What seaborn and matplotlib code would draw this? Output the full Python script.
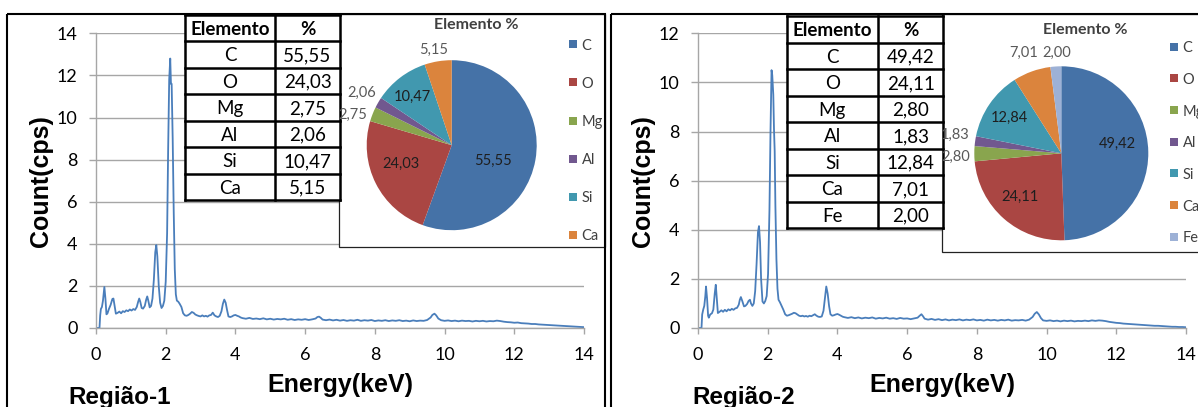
import numpy as np
import pandas as pd
import matplotlib
matplotlib.use("Agg")
import matplotlib.pyplot as plt
from matplotlib.patches import Rectangle
import seaborn as sns

# ---------------------------------------------------------------- data
elements_r1 = ["C", "O", "Mg", "Al", "Si", "Ca"]
percent_r1 = [55.55, 24.03, 2.75, 2.06, 10.47, 5.15]

elements_r2 = ["C", "O", "Mg", "Al", "Si", "Ca", "Fe"]
percent_r2 = [49.42, 24.11, 2.80, 1.83, 12.84, 7.01, 2.00]

region_titles = ["Região-1", "Região-2"]
x_title = "Energy(keV)"
y_title = "Count(cps)"
table_header = ["Elemento", "%"]
pie_title = "Elemento %"

x_ticks = [0, 2, 4, 6, 8, 10, 12, 14]
y_ticks_r1 = [0, 2, 4, 6, 8, 10, 12, 14]
y_ticks_r2 = [0, 2, 4, 6, 8, 10, 12]

# EDS spectrum, region 1
energy_r1 = [0.00, 0.10, 0.12, 0.14, 0.17, 0.20, 0.24, 0.27, 0.30, 0.33, 0.37, 0.42,
             0.47, 0.50, 0.53, 0.57, 0.62, 0.67, 0.72, 0.77, 0.82, 0.87, 0.92, 0.97,
             1.02, 1.07, 1.12, 1.17, 1.21, 1.24, 1.27, 1.31, 1.35, 1.40, 1.44, 1.47,
             1.50, 1.54, 1.58, 1.62, 1.66, 1.70, 1.73, 1.76, 1.80, 1.84, 1.88, 1.92,
             1.96, 2.00, 2.04, 2.07, 2.10, 2.13, 2.15, 2.17, 2.20, 2.23, 2.26, 2.29,
             2.32, 2.36, 2.40, 2.45, 2.50, 2.55, 2.60, 2.65, 2.70, 2.75, 2.80, 2.85,
             2.90, 2.95, 3.00, 3.05, 3.10, 3.15, 3.20, 3.25, 3.30, 3.35, 3.40, 3.45,
             3.50, 3.55, 3.60, 3.64, 3.68, 3.72, 3.76, 3.80, 3.85, 3.90, 3.95, 4.00,
             4.05, 4.10, 4.15, 4.20, 4.30, 4.40, 4.50, 4.60, 4.70, 4.80, 4.90, 5.00,
             5.10, 5.20, 5.30, 5.40, 5.50, 5.60, 5.70, 5.80, 5.90, 6.00, 6.10, 6.20,
             6.30, 6.35, 6.40, 6.45, 6.50, 6.60, 6.70, 6.80, 6.90, 7.00, 7.10, 7.20,
             7.30, 7.40, 7.50, 7.60, 7.70, 7.80, 7.90, 8.00, 8.10, 8.20, 8.30, 8.40,
             8.50, 8.60, 8.70, 8.80, 8.90, 9.00, 9.10, 9.20, 9.30, 9.40, 9.50, 9.60,
             9.65, 9.71, 9.76, 9.82, 9.90, 10.00, 10.10, 10.20, 10.30, 10.40, 10.50,
             10.60, 10.70, 10.80, 10.90, 11.00, 11.10, 11.20, 11.30, 11.40, 11.50,
             11.60, 11.70, 11.80, 11.90, 12.00, 12.10, 12.20, 12.30, 12.40, 12.50,
             12.60, 12.70, 12.80, 12.90, 13.00, 13.10, 13.20, 13.30, 13.40, 13.50,
             13.60, 13.70, 13.80, 13.90, 14.00]
counts_r1 = [0.00, 0.00, 0.60, 0.90, 1.00, 1.30, 1.95, 1.40, 0.65, 0.70, 0.90, 1.10,
             1.38, 1.40, 1.10, 0.68, 0.72, 0.78, 0.70, 0.80, 0.76, 0.84, 0.80, 0.88,
             0.83, 0.90, 0.86, 1.00, 1.25, 1.40, 1.25, 0.95, 0.92, 1.05, 1.35, 1.50,
             1.30, 0.98, 1.05, 1.40, 2.30, 3.60, 3.94, 3.40, 2.00, 1.20, 0.95, 1.05,
             1.30, 2.20, 4.50, 8.50, 11.80, 12.80, 11.60, 11.60, 9.00, 5.50, 2.80, 1.60,
             1.30, 1.25, 1.15, 1.00, 0.70, 0.60, 0.58, 0.62, 0.68, 0.76, 0.72, 0.64,
             0.60, 0.57, 0.55, 0.60, 0.55, 0.58, 0.54, 0.60, 0.62, 0.73, 0.60, 0.55,
             0.52, 0.58, 0.80, 1.15, 1.35, 1.20, 0.85, 0.55, 0.52, 0.55, 0.60, 0.62,
             0.58, 0.55, 0.50, 0.47, 0.44, 0.48, 0.43, 0.45, 0.42, 0.46, 0.41, 0.44,
             0.40, 0.43, 0.41, 0.44, 0.39, 0.42, 0.38, 0.41, 0.39, 0.42, 0.38, 0.41,
             0.45, 0.52, 0.54, 0.48, 0.40, 0.37, 0.40, 0.36, 0.39, 0.35, 0.38, 0.34,
             0.37, 0.35, 0.39, 0.34, 0.37, 0.35, 0.38, 0.33, 0.36, 0.34, 0.37, 0.33,
             0.36, 0.34, 0.37, 0.33, 0.35, 0.32, 0.36, 0.33, 0.35, 0.34, 0.38, 0.50,
             0.62, 0.68, 0.60, 0.45, 0.37, 0.34, 0.36, 0.33, 0.35, 0.32, 0.35,
             0.33, 0.34, 0.31, 0.34, 0.32, 0.34, 0.31, 0.33, 0.32, 0.35,
             0.33, 0.30, 0.28, 0.27, 0.25, 0.26, 0.23, 0.22, 0.21, 0.19,
             0.19, 0.17, 0.16, 0.15, 0.14, 0.13, 0.12, 0.11, 0.10, 0.09,
             0.08, 0.07, 0.06, 0.05, 0.04]

# EDS spectrum, region 2
energy_r2 = [0.00, 0.10, 0.12, 0.15, 0.18, 0.21, 0.23, 0.26, 0.29, 0.31, 0.35, 0.40,
             0.44, 0.48, 0.51, 0.54, 0.57, 0.62, 0.67, 0.72, 0.77, 0.82, 0.87, 0.92,
             0.97, 1.02, 1.07, 1.12, 1.17, 1.20, 1.23, 1.27, 1.32, 1.36, 1.41, 1.45,
             1.49, 1.52, 1.56, 1.60, 1.64, 1.68, 1.72, 1.75, 1.78, 1.81, 1.85, 1.89,
             1.93, 1.97, 2.01, 2.05, 2.08, 2.11, 2.13, 2.16, 2.18, 2.20, 2.22, 2.25,
             2.28, 2.31, 2.35, 2.40, 2.45, 2.50, 2.55, 2.60, 2.65, 2.70, 2.75, 2.80,
             2.85, 2.90, 2.95, 3.00, 3.05, 3.10, 3.15, 3.20, 3.25, 3.30, 3.35, 3.40,
             3.45, 3.50, 3.55, 3.60, 3.64, 3.68, 3.72, 3.76, 3.80, 3.85, 3.90, 3.95,
             4.00, 4.05, 4.10, 4.15, 4.20, 4.30, 4.40, 4.50, 4.60, 4.70, 4.80, 4.90,
             5.00, 5.10, 5.20, 5.30, 5.40, 5.50, 5.60, 5.70, 5.80, 5.90, 6.00, 6.10,
             6.20, 6.30, 6.36, 6.41, 6.46, 6.50, 6.60, 6.70, 6.80, 6.90, 7.00, 7.10,
             7.20, 7.30, 7.40, 7.50, 7.60, 7.70, 7.80, 7.90, 8.00, 8.10, 8.20, 8.30,
             8.40, 8.50, 8.60, 8.70, 8.80, 8.90, 9.00, 9.10, 9.20, 9.30, 9.40, 9.50,
             9.60, 9.66, 9.72, 9.78, 9.84, 9.90, 10.00, 10.10, 10.20, 10.30, 10.40,
             10.50, 10.60, 10.70, 10.80, 10.90, 11.00, 11.10, 11.20, 11.30, 11.40,
             11.50, 11.60, 11.70, 11.80, 11.90, 12.00, 12.10, 12.20, 12.30, 12.40,
             12.50, 12.60, 12.70, 12.80, 12.90, 13.00, 13.10, 13.20, 13.30, 13.40,
             13.50, 13.60, 13.70, 13.80, 13.90, 14.00]
counts_r2 = [0.00, 0.00, 0.55, 0.75, 0.90, 1.30, 1.69, 1.20, 0.50, 0.42, 0.55, 0.60,
             0.75, 1.40, 1.76, 1.20, 0.61, 0.66, 0.72, 0.66, 0.74, 0.68, 0.76, 0.72,
             0.78, 0.74, 0.80, 0.82, 0.95, 1.15, 1.26, 1.10, 0.88, 0.90, 0.98, 1.10,
             1.15, 1.00, 0.90, 1.00, 1.50, 2.60, 3.90, 4.15, 3.50, 2.00, 1.08, 1.00,
             1.10, 1.30, 2.20, 4.80, 8.00, 10.50, 10.30, 9.50, 8.10, 7.20, 5.00, 2.80,
             1.60, 1.15, 1.05, 0.90, 0.74, 0.56, 0.50, 0.52, 0.55, 0.58, 0.62, 0.60,
             0.55, 0.50, 0.48, 0.50, 0.47, 0.49, 0.46, 0.50, 0.48, 0.52, 0.56, 0.50,
             0.46, 0.45, 0.47, 0.70, 1.20, 1.69, 1.40, 0.90, 0.56, 0.50, 0.52, 0.55,
             0.57, 0.54, 0.50, 0.46, 0.44, 0.41, 0.44, 0.40, 0.43, 0.39, 0.42, 0.40,
             0.43, 0.38, 0.41, 0.39, 0.42, 0.38, 0.40, 0.37, 0.41, 0.38, 0.39, 0.36,
             0.39, 0.42, 0.50, 0.56, 0.47, 0.38, 0.34, 0.37, 0.33, 0.36, 0.32, 0.35,
             0.31, 0.34, 0.32, 0.35, 0.31, 0.34, 0.32, 0.35, 0.31, 0.33, 0.30, 0.34,
             0.31, 0.33, 0.30, 0.33, 0.31, 0.34, 0.30, 0.32, 0.31, 0.33, 0.30, 0.34,
             0.45, 0.58, 0.65, 0.55, 0.40, 0.31, 0.29, 0.31, 0.28, 0.30, 0.27,
             0.30, 0.28, 0.30, 0.27, 0.29, 0.28, 0.30, 0.28, 0.31, 0.29,
             0.31, 0.30, 0.28, 0.25, 0.23, 0.21, 0.20, 0.18, 0.17, 0.16,
             0.15, 0.14, 0.13, 0.12, 0.11, 0.10, 0.09, 0.09, 0.08, 0.07,
             0.06, 0.05, 0.05, 0.04, 0.04, 0.03]

# ---------------------------------------------------------------- style
W, H = 1198, 407
sns.set_theme(style="white")
plt.rcParams["font.family"] = ["Lato", "DejaVu Sans"]

PIE_COLORS = {"C": "#4572A7", "O": "#AA4643", "Mg": "#89A54E", "Al": "#71588F",
              "Si": "#4198AF", "Ca": "#DB843D", "Fe": "#9DB1D6"}
GRID = "#A6A6A6"
LINE = "#4A7EBB"
BOLD_FONT = ["Liberation Sans", "DejaVu Sans"]

fig = plt.figure(figsize=(W / 100, H / 100), dpi=100)


def rect(x0, y0, x1, y1):
    """Pixel box (origin top-left) -> figure fraction rectangle."""
    return [x0 / W, 1 - y1 / H, (x1 - x0) / W, (y1 - y0) / H]


def fmt(v):
    return f"{v:.2f}".replace(".", ",")


def spectrum(x0, energy, counts, yticks):
    ax = fig.add_axes(rect(x0, 33.3, x0 + 488, 328))
    df = pd.DataFrame({"Energy": energy, "Count": counts})
    sns.lineplot(data=df, x="Energy", y="Count", ax=ax, color=LINE,
                 linewidth=1.3, estimator=None, sort=False)
    ax.set_xlim(x_ticks[0], x_ticks[-1])
    ax.set_ylim(yticks[0], yticks[-1])
    ax.set_xticks(x_ticks)
    ax.set_yticks(yticks)
    ax.yaxis.grid(True, color=GRID, linewidth=1.0)
    ax.xaxis.grid(False)
    ax.set_axisbelow(True)
    for s in ("top", "right"):
        ax.spines[s].set_visible(False)
    for s in ("left", "bottom"):
        ax.spines[s].set_color(GRID)
        ax.spines[s].set_linewidth(1.0)
    ax.tick_params(axis="x", direction="out", length=4, width=1.0, color=GRID,
                   pad=9.5, labelsize=13, labelcolor="black", bottom=True)
    ax.tick_params(axis="y", direction="out", length=5, width=1.0, color=GRID,
                   pad=8.2, labelsize=13, labelcolor="black", left=True)
    ax.set_xlabel("")
    ax.set_ylabel("")
    ax.patch.set_alpha(0)
    return ax


spectrum(96, energy_r1, counts_r1, y_ticks_r1)
spectrum(698, energy_r2, counts_r2, y_ticks_r2)

# overlay in pixel coordinates for frames, tables, legends and titles
ov = fig.add_axes([0, 0, 1, 1])
ov.set_xlim(0, W)
ov.set_ylim(H, 0)
ov.axis("off")


def table(x0, xm, x1, y0, rh, elems, vals):
    n = len(elems) + 1
    y1 = y0 + rh * n
    ov.add_patch(Rectangle((x0, y0), x1 - x0, y1 - y0, facecolor="white",
                           edgecolor="none", zorder=3))
    for i in range(n + 1):
        ov.plot([x0, x1], [y0 + i * rh] * 2, color="black", lw=1.8,
                solid_capstyle="projecting", zorder=4)
    for x in (x0, xm, x1):
        ov.plot([x, x], [y0, y1], color="black", lw=1.8,
                solid_capstyle="projecting", zorder=4)
    cl, cr = (x0 + xm) / 2, (xm + x1) / 2
    ov.text(cl, y0 + rh / 2, table_header[0], ha="center", va="center_baseline",
            fontsize=13.5, fontweight="bold", color="black", zorder=5)
    ov.text(cr, y0 + rh / 2, table_header[1], ha="center", va="center_baseline",
            fontsize=13.5, fontweight="bold", color="black", zorder=5)
    for i, (e, v) in enumerate(zip(elems, vals), start=1):
        yc = y0 + rh * (i + 0.5)
        ov.text(cl, yc, e, ha="center", va="center_baseline", fontsize=13.5,
                color="black", zorder=5)
        ov.text(cr, yc, fmt(v), ha="center", va="center_baseline", fontsize=13.5,
                color="black", zorder=5)


def pie_panel(box, title_xy, centre, r, elems, vals, lab_r, lab_dt,
              leg_x, leg_y0, leg_dy):
    bx0, by0, bx1, by1 = box
    ov.add_patch(Rectangle((bx0, by0), bx1 - bx0, by1 - by0, facecolor="white",
                           edgecolor="#222222", lw=0.9, zorder=2))
    ov.text(*title_xy, pie_title, ha="center", va="center", fontsize=11.5,
            fontweight="bold", color="#404040", zorder=5)
    for k, e in enumerate(elems):
        yc = leg_y0 + k * leg_dy
        ov.add_patch(Rectangle((leg_x, yc - 4), 8, 8, facecolor=PIE_COLORS[e],
                               edgecolor="none", zorder=5))
        ov.text(leg_x + 12.5, yc, e, ha="left", va="center_baseline",
                fontsize=10.5, color="#404040", zorder=5)
    cx, cy = centre
    ax = fig.add_axes(rect(cx - r, cy - r, cx + r, cy + r))
    wedges, _ = ax.pie(vals, colors=[PIE_COLORS[e] for e in elems], startangle=90,
                       counterclock=False, radius=1, wedgeprops=dict(linewidth=0))
    ax.set_xlim(-1, 1)
    ax.set_ylim(-1, 1)
    ax.set_aspect("equal")
    ax.axis("off")
    for w, v, rf, dt in zip(wedges, vals, lab_r, lab_dt):
        mid = np.deg2rad((w.theta1 + w.theta2) / 2 + dt)
        ax.text(rf * np.cos(mid), rf * np.sin(mid), fmt(v), ha="center",
                va="center", fontsize=10.5, clip_on=False,
                color="#1E1E1E" if rf < 1 else "#595959")


# region 1 insets
pie_panel(box=(339, 14, 605, 247), title_xy=(476, 25), centre=(451.7, 145.2), r=85,
          elems=elements_r1, vals=percent_r1,
          lab_r=[0.52, 0.64, 1.22, 1.23, 0.73, 1.14],
          lab_dt=[-11, -6.5, 4.7, 0, 1.5, 1.5],
          leg_x=569, leg_y0=44.3, leg_dy=38.1)
table(185, 275, 340, 14.7, 26.47, elements_r1, percent_r1)

# region 2 insets
pie_panel(box=(942, 14, 1205, 252), title_xy=(1085, 30), centre=(1061.3, 153.3), r=87,
          elems=elements_r2, vals=percent_r2,
          lab_r=[0.65, 0.69, 1.22, 1.24, 0.72, 1.23, 1.15],
          lab_dt=[9, -2.3, 1.6, -2, 0, 1, -1],
          leg_x=1170, leg_y0=46.7, leg_dy=31.67)
table(786.7, 878, 943.3, 16, 26.5, elements_r2, percent_r2)

# axis titles and region names
for ax_left, name, name_x in zip((96, 698), region_titles, (120, 744)):
    ov.text(ax_left + 244, 385, x_title, ha="center", va="center", fontsize=18,
            fontweight="bold", family=BOLD_FONT, color="black", zorder=5)
    ov.text(ax_left - 55.5, 181, y_title, ha="center", va="center", rotation=90,
            fontsize=18, fontweight="bold", family=BOLD_FONT, color="black", zorder=5)
    ov.text(name_x, 404, name, ha="center", va="baseline", fontsize=17.5,
            fontweight="bold", family=BOLD_FONT, color="black", zorder=5)

# panel frames
for x0, x1 in ((7, 605), (611, 1210)):
    ov.add_patch(Rectangle((x0, 14), x1 - x0, 420, fill=False, edgecolor="black",
                           lw=1.5, zorder=6, clip_on=False))

fig.savefig("out.png", dpi=100)
